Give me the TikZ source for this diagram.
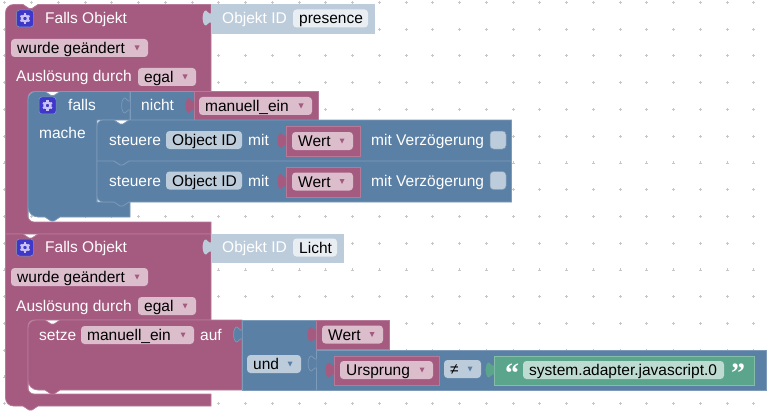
\documentclass[tikz,border=0pt]{standalone}
\usepackage{fontspec}
\setmainfont{Liberation Sans}
\definecolor{purpleblk}{HTML}{A55B80}
\definecolor{purpleedge}{HTML}{B67A98}
\definecolor{purplefld}{HTML}{DBBDCC}
\definecolor{blueblk}{HTML}{5B80A5}
\definecolor{blueedge}{HTML}{7D9AB8}
\definecolor{bluefld}{HTML}{BDCCDB}
\definecolor{greenblk}{HTML}{5BA58C}
\definecolor{greenedge}{HTML}{84BEA9}
\definecolor{greenfld}{HTML}{BDDBD1}
\definecolor{idfld}{HTML}{E9EEF3}
\definecolor{iconblue}{HTML}{3F37C9}
\definecolor{icongear}{HTML}{C9C2F2}
\tikzset{
  purpleblock/.style={fill=purpleblk,draw=purpleedge,line width=0.7pt},
  blueblock/.style={fill=blueblk,draw=blueedge,line width=0.7pt},
  greenblock/.style={fill=greenblk,draw=greenedge,line width=0.7pt},
  idblock/.style={fill=bluefld,draw=bluefld,line width=0.5pt},
  label/.style={anchor=base west,inner sep=0pt,text=white,font=\fontsize{15.5}{18}\selectfont},
  fieldlabel/.style={label,text=black},
  quotemark/.style={anchor=base west,inner sep=0pt,text=white,font=\fontsize{28}{28}\fontspec{Liberation Serif Bold}\selectfont},
  tabpin/.pic={\path[pic actions] (0,3.5) .. controls (-3,4.5) and (-3,0.5) .. (-5,0.5) .. controls (-9.5,0.5) and (-9.5,15.5) .. (-5,15.5) .. controls (-3,15.5) and (-3,11.5) .. (0,12.5);},
}
% field with a small arrow: name, left, right, centre y, text, fill, arrow
\newcommand{\dropfield}[7]{
  \fill[#6,rounded corners=3.5pt] (#2,#4-9) rectangle (#3,#4+9);
  \fill[#7] (#3-13.5,#4-2.5) -- (#3-8.5,#4-2.5) -- (#3-11,#4+2.5) -- cycle;
  \node[fieldlabel] (#1) at (#2+6,#4+5.5) {#5};
}
% field without arrow: name, left, right, centre y, text, fill
\newcommand{\plainfield}[6]{
  \fill[#6,rounded corners=3.5pt] (#2,#4-9) rectangle (#3,#4+9);
  \node[fieldlabel] (#1) at (#2+6,#4+5.5) {#5};
}
\newcommand{\gearicon}[2]{
  \fill[iconblue,draw=blueedge,line width=0.5pt,rounded corners=3pt] (#1-8.5,#2-8.5) rectangle (#1+8.5,#2+8.5);
  \draw[icongear,line width=2.2pt] (#1,#2) circle (3pt);
  \foreach \a in {30,90,...,330} {\draw[icongear,line width=2.2pt] (#1,#2) ++(\a:3.5pt) -- ++(\a:1.7pt);}
}
\begin{document}
\begin{tikzpicture}[x=1pt,y=-1pt]
\useasboundingbox (0,0) rectangle (778,417);

% grid
\foreach \a in {0,...,28} {
  \foreach \b in {0,...,15} {
    \draw[black!22,line width=0.6pt] (4.75+26.75*\a-1.5,2.3+26.75*\b) -- ++(3,0);
    \draw[black!22,line width=0.6pt] (4.75+26.75*\a,2.3+26.75*\b-1.5) -- ++(0,3);
  }
}

% first hat block
\draw[purpleblock] (5.5,234) [rounded corners=8pt] -- (5.5,4.5) [sharp corners] -- (23,4.5) -- (29,8.5) -- (32,8.5) -- (38,4.5) -- (211,4.5) -- (211,91.5) [rounded corners=6pt] -- (28,91.5) -- (28,222) [sharp corners] -- (211,222) -- (211,234) -- cycle;

% second hat block
\draw[purpleblock] (5.5,234) -- (23,234) -- (29,238) -- (32,238) -- (38,234) -- (211,234) -- (211,320) [rounded corners=6pt] -- (28,320) -- (28,394) [sharp corners] -- (211,394) -- (211,406) -- (38,406) -- (32,410) -- (29,410) -- (23,406) [rounded corners=8pt] -- (5.5,406) [sharp corners] -- cycle;

% object id blocks
\draw[idblock] (211,4.5) rectangle (374,33);
\pic[fill=bluefld] at (211,10) {tabpin};
\draw[idblock] (211,234) rectangle (343,262.5);
\pic[fill=bluefld] at (211,239) {tabpin};

% if block
\draw[blueblock] (28,217) [rounded corners=8pt] -- (28,91.5) [sharp corners] -- (45,91.5) -- (51,95.5) -- (54,95.5) -- (60,91.5) -- (130,91.5) -- (130,120) -- (97,120) -- (97,202) -- (130,202) -- (130,217) -- (60,217) -- (54,221) -- (51,221) -- (45,217) [rounded corners=10pt] -- (28,217) [sharp corners] -- cycle;
\draw[blueblock] (130,91.5) rectangle (194,120);
\pic[fill=blueblk,draw=blueedge,line width=0.7pt] at (130,97.5) {tabpin};
\draw[purpleblock] (194,91.5) rectangle (318,120);
\pic[fill=purpleblk] at (194,97.5) {tabpin};

% the two control blocks
\draw[blueblock] (97,202) [rounded corners=6pt] -- (97,120) [sharp corners] -- (114,120) -- (120,124) -- (123,124) -- (129,120) -- (511.5,120) -- (511.5,202) -- (129,202) -- (123,206) -- (120,206) -- (114,202) [rounded corners=6pt] -- (97,202) [sharp corners] -- cycle;
\draw[blueedge,line width=0.9pt] (97,161) -- (114,161) -- (120,165) -- (123,165) -- (129,161) -- (511.5,161);
\foreach \a/\b in {126/132.5,167/173.5} {
  \draw[purpleblock] (286,\a) rectangle (360,\a+30);
  \pic[fill=purpleblk] at (286,\b) {tabpin};
}

% set block
\draw[purpleblock] (28,390) [rounded corners=8pt] -- (28,320) [sharp corners] -- (45,320) -- (51,324) -- (54,324) -- (60,320) -- (242,320) -- (242,390) -- (60,390) -- (54,394) -- (51,394) -- (45,390) [rounded corners=10pt] -- (28,390) [sharp corners] -- cycle;
\draw[blueblock] (242,320) rectangle (316,390);
\pic[fill=blueblk,draw=blueedge,line width=0.7pt] at (242,326.5) {tabpin};
\draw[purpleblock] (316,320) rectangle (389,349);
\pic[fill=purpleblk] at (316,326.5) {tabpin};
\draw[blueblock] (316.5,350) rectangle (766,390);
\pic[fill=blueblk,draw=blueedge,line width=0.7pt] at (316.5,355.5) {tabpin};
\draw[purpleblock] (334,356) rectangle (439,385);
\pic[fill=purpleblk] at (334,362) {tabpin};
\draw[greenblock] (494,356) rectangle (754,385);
\pic[fill=greenblk] at (494,362) {tabpin};

% labels of the first block
\gearicon{25}{18.5}
\node[label] (fallsa) at (45,23.5) {Falls Objekt};
\node[label] (ida) at (222,23.5) {Objekt ID};
\plainfield{presencefld}{293}{368}{18.5}{presence}{idfld}
\dropfield{changeda}{11}{148}{48}{wurde geändert}{purplefld}{purpleblk}
\node[label] (triggera) at (16,82) {Auslösung durch};
\dropfield{egala}{138}{196}{77}{egal}{purplefld}{purpleblk}

\gearicon{47.5}{105.5}
\node[label] (ifword) at (68,110.5) {falls};
\node[label] (notword) at (141,110.5) {nicht};
\dropfield{manuella}{199}{312}{106}{manuell\_ein}{purplefld}{purpleblk}
\node[label] (doword) at (39,138) {mache};

\foreach \a/\b/\c in {140/ctla/wa,180.5/ctlb/wb} {
  \node[label] (\b) at (109,\a+5.5) {steuere};
  \plainfield{\b fld}{166}{242}{\a}{Object ID}{bluefld}
  \node[label] (\b mit) at (248,\a+5.5) {mit};
  \dropfield{\c}{292}{353}{\a+1}{Wert}{purplefld}{purpleblk}
  \node[label] (\b delay) at (371,\a+5.5) {mit Verzögerung};
  \fill[bluefld,draw=blueedge,line width=0.5pt,rounded corners=3.5pt] (490,\a-9) rectangle (506,\a+9);
}

% labels of the second block
\gearicon{25}{247.5}
\node[label] (fallsb) at (45,252.5) {Falls Objekt};
\node[label] (idb) at (222,252.5) {Objekt ID};
\plainfield{lichtfld}{293}{337}{247.5}{Licht}{idfld}
\dropfield{changedb}{11}{148}{277}{wurde geändert}{purplefld}{purpleblk}
\node[label] (triggerb) at (16,311) {Auslösung durch};
\dropfield{egalb}{138}{196}{306}{egal}{purplefld}{purpleblk}

\node[label] (setword) at (39,340) {setze};
\dropfield{manuellb}{81}{194}{335}{manuell\_ein}{purplefld}{purpleblk}
\node[label] (onword) at (200,340) {auf};
\dropfield{wc}{322}{383}{334.5}{Wert}{purplefld}{purpleblk}
\dropfield{andfld}{247}{301}{364}{und}{bluefld}{blueblk}
\dropfield{originfld}{340}{433}{370}{Ursprung}{purplefld}{purpleblk}
\dropfield{neqfld}{444}{481}{369}{≠}{bluefld}{blueblk}
\node[quotemark] (openq) at (505,382) {“};
\plainfield{strfld}{523}{724}{370}{system.adapter.javascript.0}{greenfld}
\node[quotemark] (closeq) at (731,382) {”};

\end{tikzpicture}
\end{document}
